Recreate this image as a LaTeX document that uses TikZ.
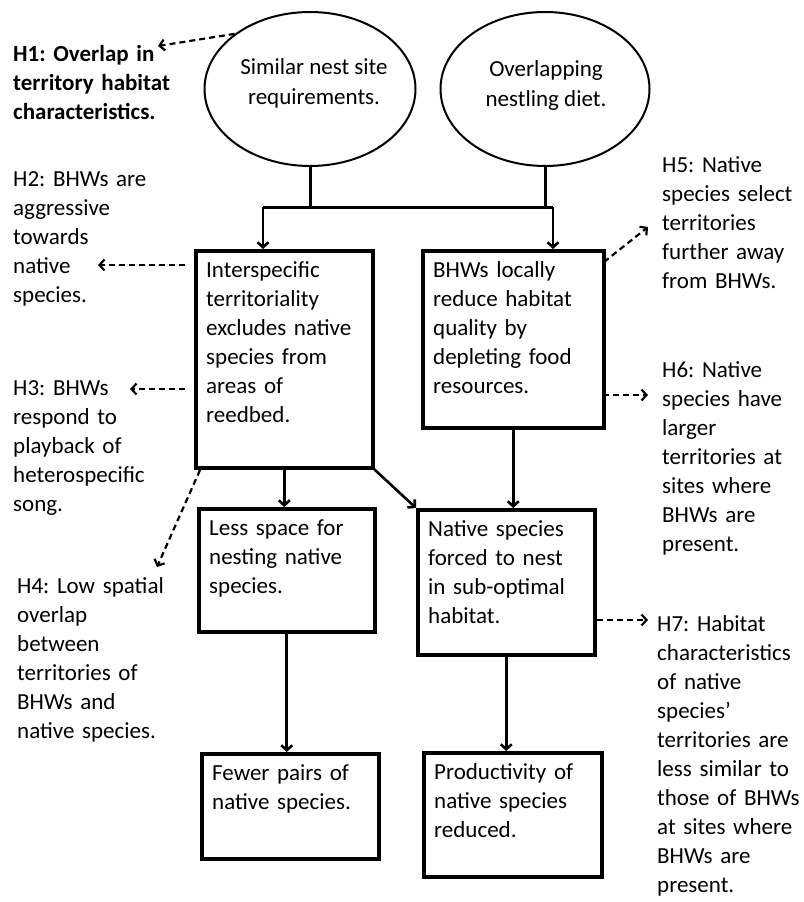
\documentclass[tikz,border=0pt]{standalone}
\usepackage{fontspec}
\setmainfont{Carlito}
\frenchspacing
\usepackage{tikz}
\usetikzlibrary{positioning,shapes.geometric,arrows.meta}
\tikzstyle{diagram} = [x = 1pt, y = -1pt, >={Straight Barb[length = 5pt, width = 11pt]}]
\tikzstyle{causeStyle} = [draw, line width = 3.5pt, rectangle, inner sep = 0pt, anchor = north west]
\tikzstyle{ellipseStyle} = [draw, line width = 2pt, ellipse, inner sep = 0pt]
\tikzstyle{bodyText} = [inner sep = 0pt, text width = 230pt, align = left, anchor = base west, font = \fontsize{23}{29}\selectfont]
\tikzstyle{ellipseText} = [inner sep = 0pt, align = center, font = \fontsize{23}{30}\selectfont]
\tikzstyle{thickLine} = [line width = 3pt]
\tikzstyle{arrowLine} = [line width = 2.6pt, ->]
\tikzstyle{dashedArrow} = [line width = 2.2pt, ->, dash pattern = on 6pt off 4pt]
\newcommand{\causeBox}[6]{\node [causeStyle, minimum width = #4pt, minimum height = #5pt] (#1) at (#2, #3) {};
  \node [bodyText] (#1Text) at ([shift = {(12, 28)}]#1.north west) {#6};}
\newcommand{\hypothesis}[4]{\node [bodyText] (#1) at (#2, #3) {#4};}

\begin{document}
\begin{tikzpicture}[diagram]
  \useasboundingbox (0, 0) rectangle (803, 902);

  % shared causes
  \node [ellipseStyle, minimum width = 211pt, minimum height = 154pt] (nestSite) at (310, 89) {};
  \node [ellipseText] (nestSiteText) at (314, 83) {Similar nest site\\requirements.};
  \node [ellipseStyle, minimum width = 209pt, minimum height = 154pt] (nestlingDiet) at (545, 89) {};
  \node [ellipseText] (nestlingDietText) at (546, 85) {Overlapping\\nestling diet.};

  % mechanisms and outcomes
  \causeBox{interTerr}{194}{249}{177}{217}{Interspecific\\territoriality\\excludes native\\species from\\areas of\\reedbed.}
  \causeBox{foodDepl}{421}{249}{181}{177}{BHWs locally\\reduce habitat\\quality by\\depleting food\\resources.}
  \causeBox{lessSpace}{197}{507}{176}{123}{Less space for\\nesting native\\species.}
  \causeBox{subOptimal}{416}{508}{177}{145}{Native species\\forced to nest\\in sub-optimal\\habitat.}
  \causeBox{fewerPairs}{200}{752}{177}{105}{Fewer pairs of\\native species.}
  \causeBox{productivity}{422}{751}{178}{124}{Productivity of\\native species\\reduced.}

  % hypotheses
  \hypothesis{hOne}{13}{61}{\textbf{H1: Overlap in}\\\textbf{territory habitat}\\\textbf{characteristics.}}
  \hypothesis{hTwo}{13}{186}{H2: BHWs are\\aggressive\\towards\\native\\species.}
  \hypothesis{hThree}{13}{395}{H3: BHWs\\respond to\\playback of\\heterospecific\\song.}
  \hypothesis{hFour}{17}{593}{H4: Low spatial\\overlap\\between\\territories of\\BHWs and\\native species.}
  \hypothesis{hFive}{662}{172}{H5: Native\\species select\\territories\\further away\\from BHWs.}
  \hypothesis{hSix}{662}{377}{H6: Native\\species have\\larger\\territories at\\sites where\\BHWs are\\present.}
  \hypothesis{hSeven}{657}{631}{H7: Habitat\\characteristics\\of native\\species’\\territories are\\less similar to\\those of BHWs\\at sites where\\BHWs are\\present.}

  % solid connectors
  \coordinate (splitLeft) at (263, 207);
  \coordinate (splitRight) at (553, 207);
  \draw [thickLine] (nestSite.south) -- (nestSite.south |- splitLeft);
  \draw [thickLine] (nestlingDiet.south) -- (nestlingDiet.south |- splitRight);
  \draw [thickLine] (splitLeft) -- (splitRight);
  \draw [arrowLine] (splitLeft) -- (splitLeft |- interTerr.north);
  \draw [arrowLine] (splitRight) -- (splitRight |- foodDepl.north);
  \draw [arrowLine] (interTerr.south) -- (interTerr.south |- lessSpace.north);
  \draw [arrowLine] (interTerr.south east) -- (subOptimal.north west);
  \draw [arrowLine] (foodDepl.south) -- (foodDepl.south |- subOptimal.north);
  \draw [arrowLine] (lessSpace.south) -- (lessSpace.south |- fewerPairs.north);
  \draw [arrowLine] (subOptimal.south) -- (subOptimal.south |- productivity.north);

  % dashed links to hypotheses
  \coordinate (hOneEnd) at (158, 46);
  \coordinate (hTwoStart) at (185, 265);
  \coordinate (hTwoEnd) at (98, 265);
  \coordinate (hThreeStart) at (185, 389);
  \coordinate (hThreeEnd) at (130, 389);
  \coordinate (hFourStart) at (200, 470);
  \coordinate (hFourEnd) at (157, 567);
  \coordinate (hFiveStart) at (604, 262);
  \coordinate (hFiveEnd) at (648, 227);
  \coordinate (hSixStart) at (603, 395);
  \coordinate (hSixEnd) at (648, 395);
  \coordinate (hSevenStart) at (597, 620);
  \coordinate (hSevenEnd) at (648, 620);
  \draw [dashedArrow] (nestSite.north west) -- (hOneEnd);
  \draw [dashedArrow] (hTwoStart) -- (hTwoEnd);
  \draw [dashedArrow] (hThreeStart) -- (hThreeEnd);
  \draw [dashedArrow] (hFourStart) -- (hFourEnd);
  \draw [dashedArrow] (hFiveStart) -- (hFiveEnd);
  \draw [dashedArrow] (hSixStart) -- (hSixEnd);
  \draw [dashedArrow] (hSevenStart) -- (hSevenEnd);
\end{tikzpicture}
\end{document}
